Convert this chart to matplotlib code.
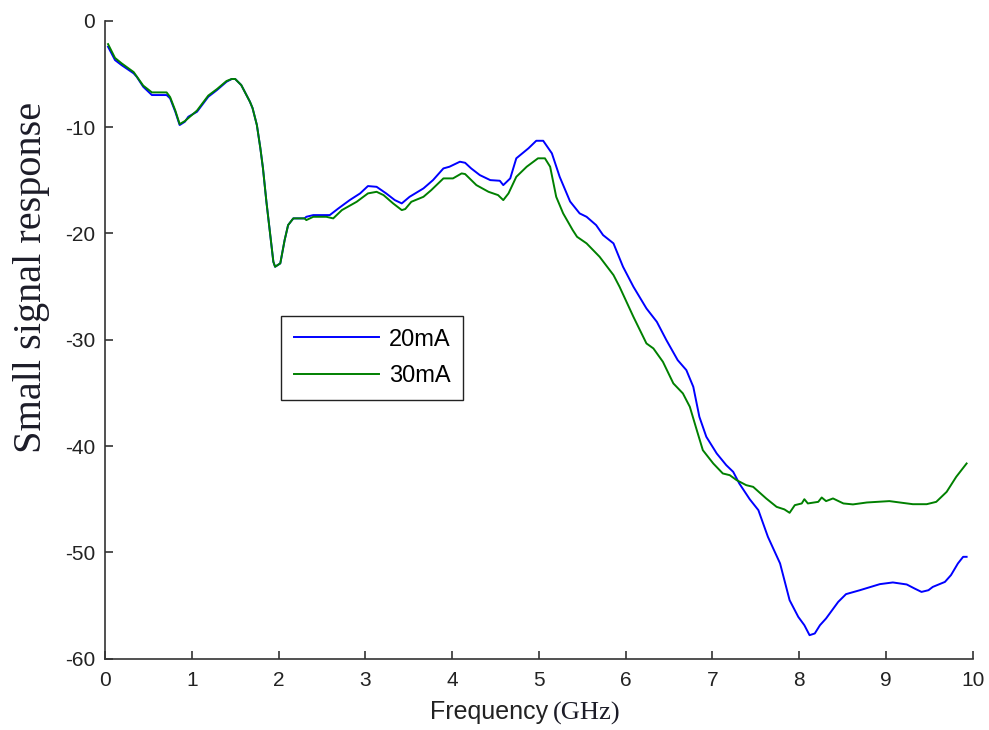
import numpy as np
import matplotlib
matplotlib.use('Agg')
import matplotlib.pyplot as plt

# 20mA curve
freq_20 = [0.035, 0.115, 0.19, 0.33, 0.365, 0.44, 0.54, 0.71, 0.75, 0.81, 0.86, 0.92, 0.96, 1.06, 1.19, 1.29, 1.40,
           1.46, 1.50, 1.57, 1.67, 1.70, 1.75, 1.79, 1.82, 1.86, 1.90, 1.94, 1.96, 2.02, 2.07, 2.11, 2.17, 2.30,
           2.32, 2.40, 2.53, 2.59, 2.69, 2.82, 2.94, 3.03, 3.13, 3.24, 3.34, 3.42, 3.51, 3.67, 3.78, 3.90, 3.97,
           4.09, 4.15, 4.22, 4.32, 4.44, 4.55, 4.59, 4.67, 4.74, 4.88, 4.97, 5.05, 5.15, 5.24, 5.36, 5.47, 5.55,
           5.66, 5.74, 5.86, 5.97, 6.09, 6.24, 6.36, 6.47, 6.60, 6.70, 6.78, 6.85, 6.93, 7.05, 7.16, 7.24, 7.31,
           7.43, 7.53, 7.64, 7.78, 7.89, 7.99, 8.06, 8.12, 8.18, 8.24, 8.31, 8.45, 8.54, 8.70, 8.93, 9.08, 9.24,
           9.33, 9.41, 9.49, 9.54, 9.68, 9.75, 9.83, 9.89, 9.93]
resp_20 = [-2.45, -3.70, -4.17, -4.95, -5.27, -6.21, -6.99, -6.99, -7.30, -8.56, -9.81, -9.50, -9.03, -8.56, -7.15, -6.52, -5.74,
           -5.48, -5.48, -6.05, -7.62, -8.21, -9.81, -11.98, -13.86, -17.03, -19.85, -22.67, -23.14, -22.82, -20.63, -19.22, -18.59, -18.59,
           -18.44, -18.28, -18.28, -18.28, -17.65, -16.87, -16.24, -15.55, -15.62, -16.24, -16.87, -17.18, -16.56, -15.77, -14.99, -13.89, -13.73,
           -13.26, -13.36, -13.89, -14.52, -14.99, -15.05, -15.46, -14.83, -12.94, -12.00, -11.29, -11.29, -12.47, -14.68, -17.0, -18.12, -18.44,
           -19.22, -20.16, -20.94, -23.14, -25.02, -27.06, -28.32, -30.04, -31.92, -32.86, -34.43, -37.25, -39.13, -40.70, -41.80, -42.43, -43.52,
           -45.0, -46.03, -48.54, -51.04, -54.50, -56.07, -56.85, -57.79, -57.63, -56.85, -56.22, -54.66, -53.93, -53.56, -52.99, -52.83, -53.02,
           -53.40, -53.72, -53.56, -53.25, -52.78, -52.14, -51.04, -50.42, -50.42]

# 30mA curve
freq_30 = [0.035, 0.115, 0.19, 0.33, 0.44, 0.54, 0.71, 0.75, 0.81, 0.86, 0.92, 1.06, 1.19, 1.29, 1.40, 1.46, 1.50, 1.57,
           1.67, 1.70, 1.75, 1.79, 1.82, 1.86, 1.90, 1.94, 1.96, 2.02, 2.07, 2.11, 2.17, 2.30, 2.32, 2.40, 2.55, 2.63,
           2.73, 2.90, 3.03, 3.13, 3.21, 3.32, 3.42, 3.46, 3.53, 3.67, 3.76, 3.90, 4.01, 4.11, 4.15, 4.28, 4.42, 4.53,
           4.59, 4.65, 4.74, 4.86, 4.99, 5.07, 5.13, 5.20, 5.28, 5.39, 5.44, 5.55, 5.70, 5.86, 5.93, 6.09, 6.24, 6.32,
           6.43, 6.55, 6.66, 6.74, 6.82, 6.89, 7.01, 7.12, 7.20, 7.28, 7.39, 7.47, 7.62, 7.74, 7.83, 7.89, 7.95, 8.03,
           8.06, 8.10, 8.22, 8.26, 8.31, 8.39, 8.51, 8.62, 8.78, 9.04, 9.16, 9.31, 9.47, 9.58, 9.70, 9.81, 9.93]
resp_30 = [-2.2, -3.5, -4.0, -4.83, -6.1, -6.74, -6.74, -7.18, -8.45, -9.72, -9.44, -8.45, -7.04, -6.43, -5.67, -5.48, -5.48, -6.05,
           -7.62, -8.21, -9.81, -11.98, -13.86, -17.03, -19.85, -22.67, -23.14, -22.82, -20.63, -19.22, -18.59, -18.59, -18.75, -18.44, -18.44, -18.59,
           -17.81, -17.03, -16.24, -16.09, -16.40, -17.18, -17.81, -17.71, -17.03, -16.56, -15.93, -14.83, -14.83, -14.36, -14.42, -15.46, -16.09, -16.40,
           -16.87, -16.24, -14.68, -13.73, -12.94, -12.94, -13.73, -16.56, -18.12, -19.69, -20.32, -20.94, -22.20, -23.92, -25.02, -27.85, -30.35, -30.82,
           -32.08, -34.11, -35.05, -36.31, -38.50, -40.39, -41.64, -42.58, -42.74, -43.21, -43.68, -43.84, -44.93, -45.72, -45.96, -46.28, -45.56, -45.40,
           -45.0, -45.40, -45.25, -44.84, -45.18, -44.93, -45.40, -45.49, -45.31, -45.18, -45.31, -45.47, -45.47, -45.25, -44.31, -42.90, -41.64]

x_ticks = list(range(0, 11))
y_ticks = [0, -10, -20, -30, -40, -50, -60]

assert len(freq_20) == len(resp_20)
assert len(freq_30) == len(resp_30)

plt.rcParams['font.family'] = ['Liberation Sans', 'DejaVu Sans']
plt.rcParams['axes.unicode_minus'] = False

fig = plt.figure(figsize=(9.89, 7.30), dpi=100)
ax = fig.add_axes([0.1062, 0.0977, 0.8773, 0.8739])

ax.plot(freq_20, resp_20, color='#0000ff', linewidth=1.4, label='20mA')
ax.plot(freq_30, resp_30, color='#008000', linewidth=1.4, label='30mA')

ax.set_xlim(0, 10)
ax.set_ylim(-60, 0)
ax.set_xticks(x_ticks)
ax.set_yticks(y_ticks)

# только левая и нижняя оси
ax.spines['top'].set_visible(False)
ax.spines['right'].set_visible(False)
for s in ['left', 'bottom']:
    ax.spines[s].set_color('#333333')
    ax.spines[s].set_linewidth(1.2)
ax.tick_params(direction='in', length=6, width=1.2, colors='#333333', labelcolor='#222222', labelsize=15)
ax.tick_params(axis='y', pad=7)
ax.tick_params(axis='x', pad=9)

ax.set_ylabel('Small signal response', family='Liberation Serif', fontsize=29, color='#1c1c28')
ax.yaxis.set_label_coords(-0.064, 0.597)

ax.text(0.5105, -0.084, 'Frequency', transform=ax.transAxes, ha='right', va='center',
        fontsize=18, color='#222222')
ax.text(0.5163, -0.086, '(GHz)', transform=ax.transAxes, ha='left', va='center',
        family='Liberation Serif', fontsize=19, color='#1c1c28')

leg = ax.legend(loc='upper left', bbox_to_anchor=(0.203, 0.537), fontsize=17, frameon=True,
                fancybox=False, borderpad=0.53, handlelength=3.6, handletextpad=0.45, labelspacing=0.62,
                borderaxespad=0)
leg.get_frame().set_edgecolor('#222222')
leg.get_frame().set_linewidth(1.0)
leg.get_frame().set_alpha(1)

fig.savefig('out.png', dpi=100)
